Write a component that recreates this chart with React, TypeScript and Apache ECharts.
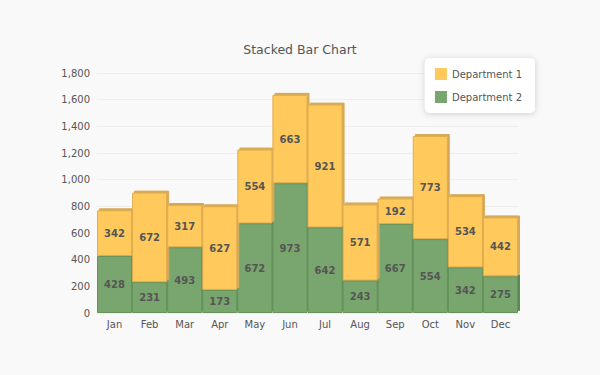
import React, { useEffect, useRef } from "react";
import * as echarts from "echarts";

const months = ["Jan", "Feb", "Mar", "Apr", "May", "Jun", "Jul", "Aug", "Sep", "Oct", "Nov", "Dec"];
const dept1 = [342, 672, 317, 627, 554, 663, 921, 571, 192, 773, 534, 442];
const dept2 = [428, 231, 493, 173, 672, 973, 642, 243, 667, 554, 342, 275];
const yTicks = { min: 0, max: 1800, interval: 200 };

export default function App() {
  const ref = useRef<HTMLDivElement>(null);
  useEffect(() => {
    if (!ref.current) return;
    const chart = echarts.init(ref.current, undefined, { renderer: "svg" });
    const font = "DejaVu Sans, Verdana, sans-serif";
    const label = {
      show: true,
      position: "inside",
      color: "#555",
      fontWeight: "bold",
      fontSize: 10,
      fontFamily: font,
    };
    chart.setOption({
      animation: false,
      backgroundColor: "#f9f9f9",
      title: {
        text: "Stacked Bar Chart",
        left: "center",
        top: 38,
        textStyle: { color: "#555", fontSize: 12.5, fontWeight: "normal", fontFamily: font },
      },
      legend: {
        orient: "vertical",
        right: 65,
        top: 58,
        backgroundColor: "#fff",
        borderRadius: 5,
        padding: [10, 13, 10, 10],
        itemGap: 11,
        itemWidth: 12,
        itemHeight: 12,
        shadowColor: "rgba(0,0,0,0.18)",
        shadowBlur: 6,
        shadowOffsetY: 1,
        icon: "rect",
        itemStyle: { borderWidth: 0, shadowBlur: 0, shadowOffsetX: 0, shadowOffsetY: 0 },
        textStyle: { color: "#555", fontSize: 10, fontFamily: font },
        data: ["Department 1", "Department 2"],
      },
      grid: { left: 97, right: 82, top: 73, bottom: 62 },
      xAxis: {
        type: "category",
        data: months,
        axisLine: { show: false },
        axisTick: { show: false },
        axisLabel: { color: "#555", fontSize: 10, fontFamily: font, margin: 6 },
      },
      yAxis: {
        type: "value",
        min: yTicks.min,
        max: yTicks.max,
        interval: yTicks.interval,
        axisLine: { show: false },
        axisTick: { show: false },
        splitLine: { lineStyle: { color: "#eeeeee" } },
        axisLabel: {
          color: "#555",
          fontSize: 10,
          fontFamily: font,
          margin: 7,
          formatter: (v: number) => v.toLocaleString("en-US"),
        },
      },
      series: [
        {
          name: "Department 2",
          type: "bar",
          stack: "total",
          barCategoryGap: "0%",
          data: dept2,
          label,
          itemStyle: {
            color: "#79a66e",
            borderColor: "#66935c",
            borderWidth: 1,
            shadowColor: "#5d8a53",
            shadowBlur: 0,
            shadowOffsetX: 2,
            shadowOffsetY: -2,
          },
        },
        {
          name: "Department 1",
          type: "bar",
          stack: "total",
          barCategoryGap: "0%",
          data: dept1,
          label,
          itemStyle: {
            color: "#ffc95c",
            borderColor: "#e0ad50",
            borderWidth: 1,
            shadowColor: "#d4aa58",
            shadowBlur: 0,
            shadowOffsetX: 2,
            shadowOffsetY: -2,
          },
        },
      ],
    });
    return () => chart.dispose();
  }, []);
  return (
    <div
      ref={ref}
      style={{ position: "absolute", left: 0, top: 0, width: 600, height: 375 }}
    />
  );
}
